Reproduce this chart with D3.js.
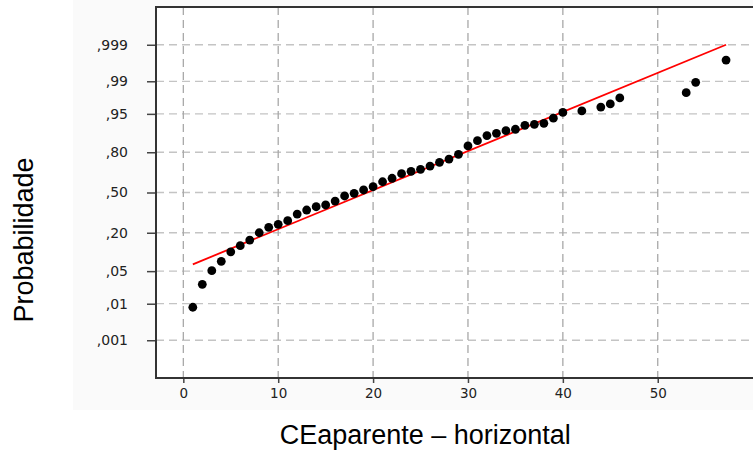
<!DOCTYPE html>
<html>
<head>
<meta charset="utf-8">
<script src="https://cdn.jsdelivr.net/npm/d3@7"></script>
<style>
  body { margin: 0; background: #fff; }
  svg { display: block; }
</style>
</head>
<body>
<div id="graph1"></div>
<script>
// observed values (x) and their plotted cumulative probability
const xValues = [1, 2, 3, 4, 5, 6, 7, 8, 9, 10, 11, 12, 13, 14, 15, 16, 17, 18, 19, 20,
  21, 22, 23, 24, 25, 26, 27, 28, 29, 30, 31, 32, 33, 34, 35, 36, 37, 38, 39, 40,
  42, 44, 45, 46, 53, 54, 57.2];
const probValues = [0.0082, 0.0274, 0.051, 0.075, 0.1075, 0.133, 0.160, 0.200, 0.233, 0.253,
  0.278, 0.326, 0.357, 0.383, 0.397, 0.429, 0.471, 0.493, 0.521, 0.548,
  0.589, 0.617, 0.653, 0.671, 0.686, 0.710, 0.736, 0.758, 0.788, 0.835,
  0.861, 0.883, 0.892, 0.902, 0.907, 0.920, 0.923, 0.926, 0.940, 0.953,
  0.956, 0.963, 0.968, 0.976, 0.9816, 0.9894, 0.9972];

// fitted normal line, ends
const fitX = [1, 57.2];
const fitP = [0.0665, 0.999];

const xTicks = [0, 10, 20, 30, 40, 50];
const yTickProbs = [0.999, 0.99, 0.95, 0.80, 0.50, 0.20, 0.05, 0.01, 0.001];
const yTickLabels = [',999', ',99', ',95', ',80', ',50', ',20', ',05', ',01', ',001'];

const xTitle = 'CEaparente – horizontal';
const yTitle = 'Probabilidade';

// inverse normal cdf (Acklam)
const probit = (p) => {
  const a = [-3.969683028665376e+01, 2.209460984245205e+02, -2.759285104469687e+02, 1.383577518672690e+02, -3.066479806614716e+01, 2.506628277459239e+00];
  const b = [-5.447609879822406e+01, 1.615858368580409e+02, -1.556989798598866e+02, 6.680131188771972e+01, -1.328068155288572e+01];
  const c = [-7.784894002430293e-03, -3.223964580411365e-01, -2.400758277161838e+00, -2.549732539343734e+00, 4.374664141464968e+00, 2.938163982698783e+00];
  const d = [7.784695709041462e-03, 3.224671290700398e-01, 2.445134137142996e+00, 3.754408661907416e+00];
  const plow = 0.02425;
  let q, r;
  if (p < plow) {
    q = Math.sqrt(-2 * Math.log(p));
    return (((((c[0]*q+c[1])*q+c[2])*q+c[3])*q+c[4])*q+c[5]) / ((((d[0]*q+d[1])*q+d[2])*q+d[3])*q+1);
  }
  if (p > 1 - plow) {
    q = Math.sqrt(-2 * Math.log(1 - p));
    return -(((((c[0]*q+c[1])*q+c[2])*q+c[3])*q+c[4])*q+c[5]) / ((((d[0]*q+d[1])*q+d[2])*q+d[3])*q+1);
  }
  q = p - 0.5;
  r = q * q;
  return (((((a[0]*r+a[1])*r+a[2])*r+a[3])*r+a[4])*r+a[5])*q / (((((b[0]*r+b[1])*r+b[2])*r+b[3])*r+b[4])*r+1);
};

const W = 753, H = 459;
const margin = {top: 7, right: 0, bottom: 81, left: 156};
const width = W - margin.left - margin.right;
const height = H - margin.top - margin.bottom;

const root = d3.select('#graph1')
  .append('svg')
    .attr('width', W)
    .attr('height', H);

// faint grey backdrop of the pasted chart
root.append('rect')
  .attr('x', 73).attr('y', 0)
  .attr('width', W - 73).attr('height', 410)
  .attr('fill', '#fafafa');

const svg = root.append('g')
  .attr('transform', `translate(${margin.left},${margin.top})`);

svg.append('rect')
  .attr('width', width).attr('height', height)
  .attr('fill', '#fff');

const x = d3.scaleLinear()
  .domain([-2.88, 60.04])
  .range([0, width]);

const z = d3.scaleLinear()
  .domain([-3.88, 3.88])
  .range([height, 0]);
const y = (p) => z(probit(p));

// grid
svg.append('g')
  .selectAll('line')
  .data(yTickProbs)
  .join('line')
    .attr('x1', 0).attr('x2', width)
    .attr('y1', d => y(d)).attr('y2', d => y(d))
    .attr('stroke', '#c4c4c4')
    .attr('stroke-width', 1.3)
    .attr('stroke-dasharray', '8,5');

svg.append('g')
  .selectAll('line')
  .data(xTicks)
  .join('line')
    .attr('x1', d => x(d)).attr('x2', d => x(d))
    .attr('y1', 0).attr('y2', height)
    .attr('stroke', '#a8a8a8')
    .attr('stroke-width', 1.3)
    .attr('stroke-dasharray', '8,5');

// axes
const xAxis = svg.append('g')
  .attr('transform', `translate(0,${height})`)
  .call(d3.axisBottom(x).tickValues(xTicks).tickSize(5).tickPadding(5).tickFormat(d3.format('d')));

const yAxis = svg.append('g')
  .call(d3.axisLeft(z)
    .tickValues(yTickProbs.map(probit))
    .tickFormat((d, i) => yTickLabels[i])
    .tickSize(9)
    .tickPadding(19));

[xAxis, yAxis].forEach(g => {
  g.select('.domain').remove();
  g.selectAll('.tick line').attr('stroke', '#444').attr('stroke-width', 1.5);
  g.selectAll('.tick text')
    .style('font-family', '"DejaVu Sans", Verdana, sans-serif')
    .attr('fill', '#222');
});
xAxis.selectAll('.tick text').style('font-size', '13.5px');
yAxis.selectAll('.tick text').style('font-size', '14px');

// frame: top, left, bottom
svg.append('path')
  .attr('d', `M${width},0H0V${height}H${width}`)
  .attr('fill', 'none')
  .attr('stroke', '#333')
  .attr('stroke-width', 2);

// fitted line
svg.append('path')
  .datum(fitX.map((v, i) => [v, fitP[i]]))
  .attr('fill', 'none')
  .attr('stroke', '#ff0000')
  .attr('stroke-width', 1.8)
  .attr('d', d3.line()
    .x(d => x(d[0]))
    .y(d => y(d[1])));

// points
svg.append('g')
  .selectAll('circle')
  .data(xValues.map((v, i) => [v, probValues[i]]))
  .join('circle')
    .attr('cx', d => x(d[0]))
    .attr('cy', d => y(d[1]))
    .attr('r', 4.4)
    .attr('fill', '#000');

// titles
root.append('text')
  .attr('x', margin.left + x(25.5))
  .attr('y', 444)
  .attr('text-anchor', 'middle')
  .style('font-family', 'Arial, "Liberation Sans", sans-serif')
  .style('font-size', '27px')
  .text(xTitle);

root.append('text')
  .attr('transform', `translate(33,240) rotate(-90)`)
  .attr('text-anchor', 'middle')
  .style('font-family', 'Arial, "Liberation Sans", sans-serif')
  .style('font-size', '27px')
  .text(yTitle);
</script>
</body>
</html>
